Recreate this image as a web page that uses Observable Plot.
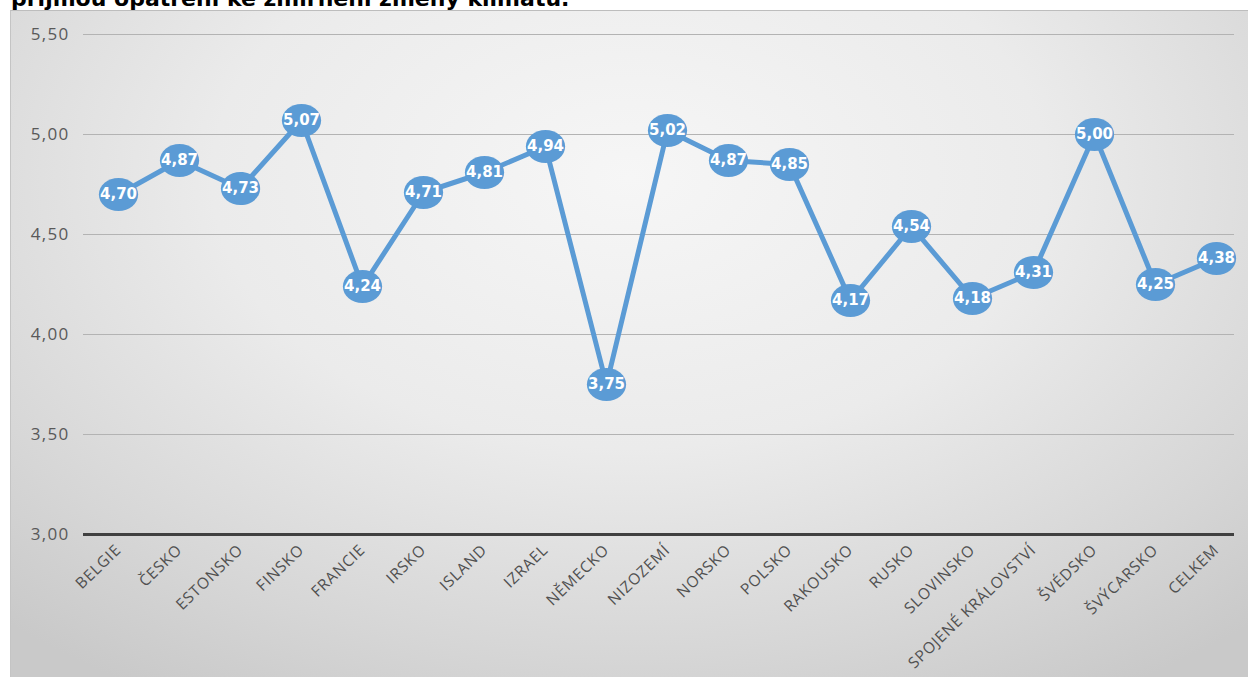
<!DOCTYPE html>
<html>
<head>
<meta charset="utf-8">
<script src="https://cdn.jsdelivr.net/npm/d3@7"></script>
<script src="https://cdn.jsdelivr.net/npm/@observablehq/plot@0.6"></script>
<style>
  html, body { margin: 0; padding: 0; background: #fff; width: 1248px; height: 677px; overflow: hidden; }
  #title { position: absolute; left: 11px; top: -12px; font-family: "DejaVu Sans", Verdana, sans-serif; font-weight: bold; font-size: 22px; line-height: 22px; color: #000; white-space: nowrap; }
  #box { position: absolute; left: 10px; top: 10px; width: 1238px; height: 667px;
    border-top: 1px solid #bdbdbd; border-left: 1px solid #c4c4c4;
    background: radial-gradient(ellipse 75% 90% at 50% 25%, #f6f6f6 0%, #ebebeb 45%, #d6d6d6 80%, #c9c9c9 100%); }
  #box svg { position: absolute; left: 0; top: 0; }
  #box svg g[aria-label="y-axis tick label"] text { letter-spacing: 1.3px; }
  #box svg g[aria-label="x-axis tick label"] text { letter-spacing: 0.8px; }
</style>
</head>
<body>
<div id="title">přijmou opatření ke zmírnění změny klimatu.</div>
<div id="box"></div>
<script>
const categories = ["BELGIE","ČESKO","ESTONSKO","FINSKO","FRANCIE","IRSKO","ISLAND","IZRAEL","NĚMECKO","NIZOZEMÍ","NORSKO","POLSKO","RAKOUSKO","RUSKO","SLOVINSKO","SPOJENÉ KRÁLOVSTVÍ","ŠVÉDSKO","ŠVÝCARSKO","CELKEM"];
const values = [4.70,4.87,4.73,5.07,4.24,4.71,4.81,4.94,3.75,5.02,4.87,4.85,4.17,4.54,4.18,4.31,5.00,4.25,4.38];
const yTicks = [3.0,3.5,4.0,4.5,5.0,5.5];

const data = categories.map((c, i) => ({country: c, value: values[i]}));
const fmt = v => v.toFixed(2).replace(".", ",");

// ellipse symbol (wider than tall)
const ellipse = {
  draw(ctx, size) {
    const r = Math.sqrt(size / Math.PI);
    const rx = r * 1.19, ry = r;
    const k = 0.5522847498;
    ctx.moveTo(rx, 0);
    ctx.bezierCurveTo(rx, ry * k, rx * k, ry, 0, ry);
    ctx.bezierCurveTo(-rx * k, ry, -rx, ry * k, -rx, 0);
    ctx.bezierCurveTo(-rx, -ry * k, -rx * k, -ry, 0, -ry);
    ctx.bezierCurveTo(rx * k, -ry, rx, -ry * k, rx, 0);
    ctx.closePath();
  }
};

const blue = "#5b9bd5";

const chart = Plot.plot({
  width: 1238,
  height: 667,
  marginLeft: 72,
  marginRight: 15,
  marginTop: 23,
  marginBottom: 144,
  style: { background: "transparent", fontFamily: "'Open Sans', sans-serif", overflow: "visible" },
  x: { type: "point", domain: categories, range: [105, 1206], padding: 0, align: 0.5, label: null },
  y: { domain: [3, 5.5], range: [523, 23], label: null },
  axis: null,
  marks: [
    Plot.ruleY(yTicks.filter(t => t > 3), { stroke: "#b3b3b3", strokeWidth: 1.2 }),
    Plot.ruleY([3], { stroke: "#404040", strokeWidth: 3 }),
    Plot.axisY({ ticks: yTicks, tickSize: 0, tickPadding: 14, tickFormat: fmt, fontSize: 17, fill: "#595959", label: null }),
    Plot.axisX({ tickSize: 0, tickRotate: -44, tickPadding: 13, fontSize: 15.5, fill: "#505050", label: null }),
    Plot.line(data, { x: "country", y: "value", stroke: blue, strokeWidth: 5, strokeLinejoin: "round" }),
    Plot.dot(data, { x: "country", y: "value", r: 16.5, symbol: ellipse, fill: blue, stroke: "none" }),
    Plot.text(data, { x: "country", y: "value", text: d => fmt(d.value), fill: "white", fontSize: 15, fontWeight: "bold", fontFamily: "'DejaVu Sans', Verdana, sans-serif" })
  ]
});
document.getElementById("box").appendChild(chart);
</script>
</body>
</html>
